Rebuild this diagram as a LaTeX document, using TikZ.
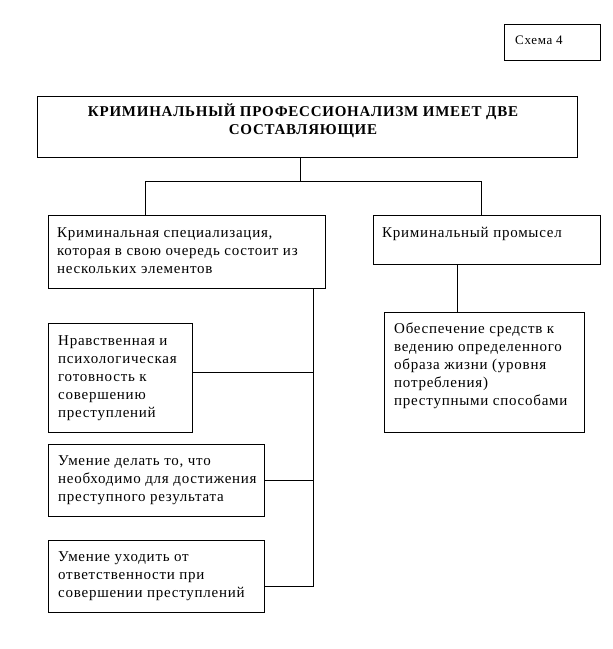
\documentclass[tikz,border=0pt]{standalone}
\usepackage{fontspec}
\setmainfont{Liberation Serif}[LetterSpace=5]
\begin{document}
\begin{tikzpicture}[x=1pt,y=-1pt,
  box/.style={draw, line width=1pt, rectangle, inner sep=0pt, anchor=north west},
  txt/.style={font=\fontsize{15}{18}\selectfont, align=left, inner sep=0pt, anchor=north west},
  conn/.style={line width=1pt}]
\useasboundingbox (0,0) rectangle (613,649);
% boxes
\node[box, minimum width=96, minimum height=36] (schema) at (504,24) {};
\node[box, minimum width=540, minimum height=61] (title) at (37,96) {};
\node[box, minimum width=277, minimum height=73] (spec) at (48,215) {};
\node[box, minimum width=227, minimum height=49] (prom) at (373,215) {};
\node[box, minimum width=200, minimum height=120] (ob) at (384,312) {};
\node[box, minimum width=144, minimum height=109] (el1) at (48,323) {};
\node[box, minimum width=216, minimum height=72] (el2) at (48,444) {};
\node[box, minimum width=216, minimum height=72] (el3) at (48,540) {};
% texts
\node[txt, font=\fontsize{13}{16}\selectfont] (schemaT) at (515,36) {Схема 4};
\node[font=\fontsize{15}{18}\selectfont\bfseries, align=center, inner sep=0pt] (titleT) at (303,121) {КРИМИНАЛЬНЫЙ ПРОФЕССИОНАЛИЗМ ИМЕЕТ ДВЕ\\СОСТАВЛЯЮЩИЕ};
\node[txt] (specT) at (57,227) {Криминальная специализация,\\которая в свою очередь состоит из\\нескольких элементов};
\node[txt] (promT) at (382,227) {Криминальный промысел};
\node[txt] (obT) at (394,323) {Обеспечение средств к\\ведению определенного\\образа жизни (уровня\\потребления)\\преступными способами};
\node[txt] (el1T) at (58,335) {Нравственная и\\психологическая\\готовность к\\совершению\\преступлений};
\node[txt] (el2T) at (58,455) {Умение делать то, что\\необходимо для достижения\\преступного результата};
\node[txt] (el3T) at (58,551) {Умение уходить от\\ответственности при\\совершении преступлений};
% connectors
\coordinate (j) at (300,181);
\coordinate (jl) at (145,181);
\coordinate (jr) at (481,181);
\draw[conn] (title.south -| j) -- (j);
\draw[conn] (spec.north -| jl) -- (jl) -- (jr) -- (prom.north -| jr);
\coordinate (rc) at (457,288);
\draw[conn] (prom.south -| rc) -- (ob.north -| rc);
\coordinate (s1) at (313,372);
\coordinate (s2) at (313,480);
\coordinate (s3) at (313,586);
\draw[conn] (spec.south -| s3) -- (s3) -- (s3 -| el3.east);
\draw[conn] (s1) -- (s1 -| el1.east);
\draw[conn] (s2) -- (s2 -| el2.east);
\end{tikzpicture}
\end{document}
